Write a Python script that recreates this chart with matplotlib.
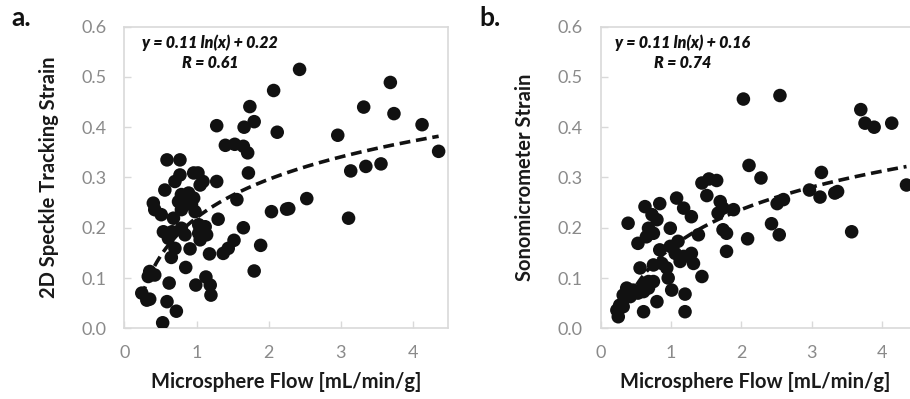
import matplotlib
matplotlib.use("Agg")
import matplotlib.pyplot as plt
import numpy as np

plt.rcParams['font.family'] = ['Lato', 'DejaVu Sans']

# panel a: microsphere flow vs 2D speckle tracking strain
flow_a = [2.07, 1.74, 1.28, 1.66, 1.80, 2.12, 1.40, 1.53, 1.65, 1.71, 0.59, 0.77, 1.72,
          0.77, 0.96, 1.02, 0.70, 1.09, 1.05, 1.28, 0.56,
          0.79, 0.89, 0.96, 0.75, 0.84, 0.93, 0.79, 0.98,
          0.40, 0.42, 0.51, 1.56, 1.30, 2.04, 2.25, 0.68,
          0.54, 0.66, 0.79, 1.03, 1.12, 1.03, 1.14, 1.05, 0.84, 1.65,
          0.61, 0.70, 0.65, 0.91, 1.18, 1.37, 1.44, 1.52, 1.89, 1.80,
          0.35, 0.42, 0.33, 0.85, 1.13, 1.19, 1.20, 0.99, 0.62,
          0.24, 0.31, 0.35, 0.59, 0.72, 0.53,
          2.43, 3.69, 3.32, 3.74, 4.13, 2.96, 4.36, 3.14, 3.35, 3.56,
          2.28, 2.53, 3.11]
strain_a = [0.473, 0.441, 0.403, 0.400, 0.411, 0.390, 0.364, 0.366, 0.362, 0.349, 0.335, 0.335, 0.309,
            0.305, 0.309, 0.309, 0.292, 0.292, 0.285, 0.292, 0.275,
            0.266, 0.269, 0.259, 0.252, 0.249, 0.246, 0.236, 0.232,
            0.249, 0.236, 0.226, 0.256, 0.217, 0.232, 0.237, 0.219,
            0.192, 0.192, 0.199, 0.206, 0.202, 0.189, 0.186, 0.176, 0.186, 0.200,
            0.179, 0.159, 0.141, 0.158, 0.148, 0.149, 0.159, 0.175, 0.165, 0.114,
            0.113, 0.106, 0.103, 0.121, 0.102, 0.086, 0.066, 0.086, 0.090,
            0.070, 0.056, 0.058, 0.053, 0.034, 0.011,
            0.515, 0.489, 0.440, 0.427, 0.405, 0.384, 0.352, 0.313, 0.322, 0.327,
            0.238, 0.258, 0.219]

# panel b: microsphere flow vs sonomicrometer strain
flow_b = [2.03, 2.11, 2.55, 3.70, 3.76, 3.89, 4.14, 2.28, 3.14, 4.35,
          2.97, 3.12, 3.33, 3.37, 2.51, 2.60, 2.43, 2.54, 2.09, 3.57,
          1.44, 1.54, 1.65, 1.08, 1.51, 0.63, 0.84, 1.70, 1.74, 1.67, 1.89,
          1.18, 1.29, 0.39, 0.73, 0.80, 0.68, 0.75, 0.65, 0.99, 1.39, 1.74, 1.79,
          0.53, 1.10, 0.99, 0.84, 1.06, 1.18, 1.13, 1.29, 1.32, 1.79,
          0.75, 0.87, 0.94, 0.56, 1.44, 0.68, 0.61, 0.75, 0.96, 1.01,
          0.37, 0.46, 0.32, 0.42, 0.53, 0.61, 0.68, 1.20, 0.80,
          0.27, 0.23, 0.25, 0.61, 1.20, 0.32]
strain_b = [0.456, 0.324, 0.463, 0.435, 0.408, 0.400, 0.408, 0.299, 0.310, 0.285,
            0.275, 0.261, 0.269, 0.272, 0.248, 0.256, 0.208, 0.186, 0.178, 0.192,
            0.289, 0.297, 0.294, 0.259, 0.264, 0.242, 0.248, 0.252, 0.239, 0.229, 0.236,
            0.239, 0.222, 0.209, 0.226, 0.216, 0.199, 0.189, 0.182, 0.199, 0.186, 0.196, 0.189,
            0.169, 0.173, 0.163, 0.156, 0.149, 0.143, 0.133, 0.149, 0.129, 0.153,
            0.126, 0.129, 0.120, 0.120, 0.103, 0.093, 0.086, 0.093, 0.100, 0.076,
            0.080, 0.076, 0.066, 0.063, 0.070, 0.073, 0.080, 0.068, 0.053,
            0.046, 0.036, 0.023, 0.033, 0.033, 0.043]

# log fit coefficients as printed on the chart
fit_a = (0.11, 0.22)
fit_b = (0.11, 0.16)

spine_col = '#d9d9d9'
tick_col = '#8a8a8a'
label_col = '#1a1a1a'

fig = plt.figure(figsize=(9.10, 3.99), dpi=100)
ax_a = fig.add_axes([0.1368, 0.1772, 0.3555, 0.756])
ax_b = fig.add_axes([0.6601, 0.1772, 0.3399, 0.756])


def style(ax, xmax, ylabel, flow, strain, fit, eq, r, eq_x, fit_start):
    ax.scatter(flow, strain, s=95, color='#111111', edgecolors='none', zorder=3)
    xs = np.linspace(max(min(flow), fit_start), max(flow), 200)
    ax.plot(xs, fit[0] * np.log(xs) + fit[1], color='#111111', lw=2.6,
            linestyle=(0, (3.0, 1.6)), zorder=4)
    ax.set_xlim(0, xmax)
    ax.set_ylim(0, 0.6)
    ax.set_xticks([0, 1, 2, 3, 4])
    ax.set_yticks(np.arange(0, 0.61, 0.1))
    ax.yaxis.set_major_formatter(matplotlib.ticker.FormatStrFormatter('%.1f'))
    for s in ax.spines.values():
        s.set_color(spine_col)
        s.set_linewidth(1.2)
    ax.tick_params(direction='in', length=5, width=1, color=spine_col,
                   labelcolor=tick_col, labelsize=13)
    ax.tick_params(axis='y', pad=13)
    ax.tick_params(axis='x', pad=12)
    ax.set_xlabel('Microsphere Flow [mL/min/g]', fontsize=14.5, fontweight='bold',
                  color=label_col, labelpad=8)
    ax.set_ylabel(ylabel, fontsize=14.5, fontweight='bold', color=label_col, labelpad=16)
    ax.text(eq_x, 0.568, eq, fontsize=11.5, fontweight='heavy', style='italic',
            ha='center', va='center', color='#111111')
    ax.text(eq_x, 0.527, r, fontsize=11.5, fontweight='heavy', style='italic',
            ha='center', va='center', color='#111111')


style(ax_a, 4.49, '2D Speckle Tracking Strain', flow_a, strain_a, fit_a,
      'y = 0.11 ln(x) + 0.22', 'R = 0.61', 1.19, 0.24)
style(ax_b, 4.40, 'Sonomicrometer Strain', flow_b, strain_b, fit_b,
      'y = 0.11 ln(x) + 0.16', 'R = 0.74', 1.17, 0.3)
ax_b.spines['right'].set_visible(False)

fig.text(0.012, 0.935, 'a.', fontsize=19, fontweight='bold', color='#111111')
fig.text(0.527, 0.935, 'b.', fontsize=19, fontweight='bold', color='#111111')

fig.savefig('out.png', dpi=100)
